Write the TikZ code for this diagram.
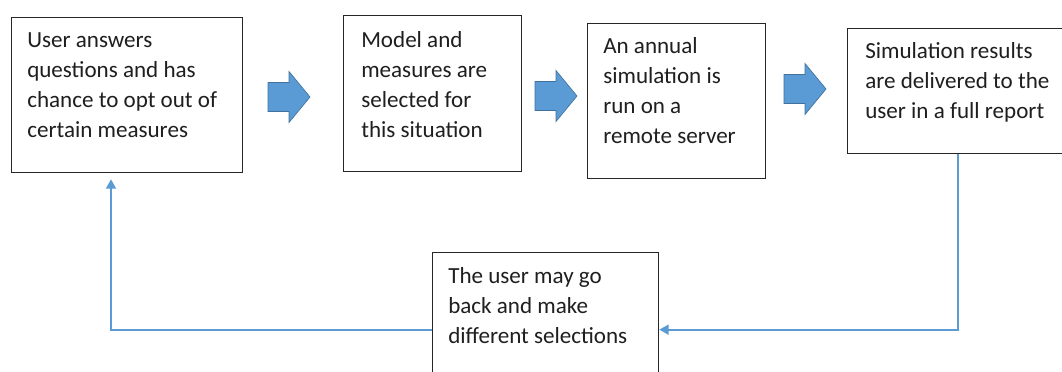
\documentclass[tikz,border=0pt]{standalone}
\usepackage{fontspec}
\setmainfont{Carlito}
\usetikzlibrary{arrows.meta,calc}
\definecolor{flowblue}{HTML}{5B9BD5}
\definecolor{flowedge}{HTML}{41719C}
% stack of lines whose baseline is the first line's baseline
\newcommand\linestack[1]{\vtop{\baselineskip=22.5pt\lineskiplimit=-20pt #1}}

\begin{document}
\begin{tikzpicture}[x=0.75pt,y=-0.75pt,
  stepbox/.style={draw=black!85,line width=1pt,rectangle,inner sep=0pt,anchor=north west},
  boxtext/.style={anchor=base west,inner sep=0pt,font=\fontsize{17.3}{22.5}\selectfont,text=black!88},
  link/.style={draw=flowblue,line width=1.4pt,-{Triangle[length=7pt,width=7.5pt]}},
  blockarrow/.pic={\path[fill=flowblue,draw=flowedge,line width=0.5pt]
    (0,-14.5) -- (21,-14.5) -- (21,-25.5) -- (42,0) -- (21,25.5) -- (21,14.5) -- (0,14.5) -- cycle;}
]
\clip (0,0) rectangle (1062,371);
\fill[white] (0,0) rectangle (1062,371);

% process boxes
\node[stepbox,minimum width={231*0.75pt},minimum height={155*0.75pt}] (b1) at (11,17) {};
\node[stepbox,minimum width={178*0.75pt},minimum height={156*0.75pt}] (b2) at (343,15) {};
\node[stepbox,minimum width={178*0.75pt},minimum height={155*0.75pt}] (b3) at (587,23) {};
\node[stepbox,minimum width={223*0.75pt},minimum height={125*0.75pt}] (b4) at (847,28) {};
\node[stepbox,minimum width={226*0.75pt},minimum height={154*0.75pt}] (b5) at (432,252) {};

% box texts
\node[boxtext] (t1) at (27,47) {\linestack{\hbox{User answers}\hbox{questions and has}\hbox{chance to opt out of}\hbox{certain measures}}};
\node[boxtext] (t2) at (361,47) {\linestack{\hbox{Model and}\hbox{measures are}\hbox{selected for}\hbox{this situation}}};
\node[boxtext] (t3) at (603,53) {\linestack{\hbox{An annual}\hbox{simulation is}\hbox{run on a}\hbox{remote server}}};
\node[boxtext] (t4) at (865,58) {\linestack{\hbox{Simulation results}\hbox{are delivered to the}\hbox{user in a full report}}};
\node[boxtext] (t5) at (448,283) {\linestack{\hbox{The user may go}\hbox{back and make}\hbox{different selections}}};

% block arrows between steps
\pic at (268,97) {blockarrow};
\pic at (535,96) {blockarrow};
\pic at (784,89) {blockarrow};

% feedback loop
\coordinate (fbtop) at ($(b1.south west)+(100,6)$);
\draw[link] ($(b4.south west)+(111,0)$) |- (b5.east);
\draw[link] (b5.west) -| (fbtop);
\end{tikzpicture}
\end{document}
